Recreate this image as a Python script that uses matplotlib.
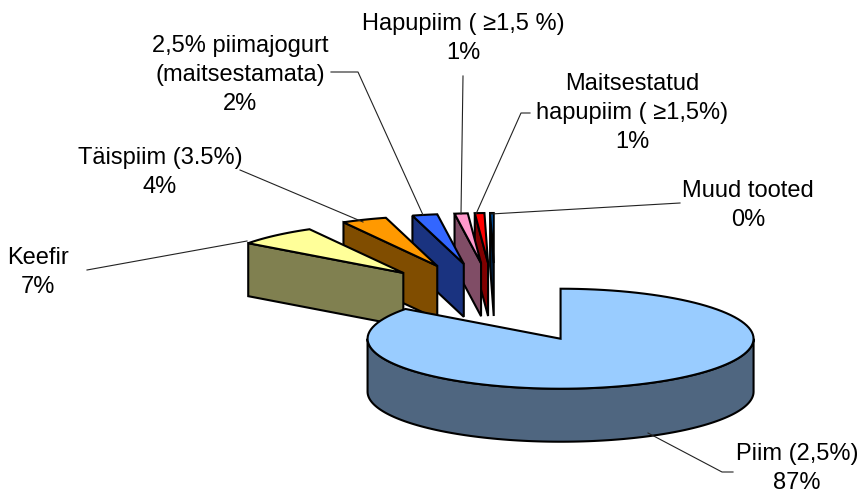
import numpy as np
import matplotlib
matplotlib.use('Agg')
import matplotlib.pyplot as plt
from matplotlib.patches import Polygon

plt.rcParams['font.family'] = ['Liberation Sans', 'DejaVu Sans']

names = ['Piim (2,5%)', 'Keefir', 'Täispiim (3.5%)', '2,5% piimajogurt\n(maitsestamata)',
         'Hapupiim ( ≥1,5 %)', 'Maitsestatud\nhapupiim ( ≥1,5%)', 'Muud tooted']
percent_text = ['87%', '7%', '4%', '2%', '1%', '1%', '0%']
# slice sizes as they are drawn
shares = [85.4, 6.8, 3.8, 2.1, 1.1, 0.8, 0.3]
top_colors = ['#99CCFF', '#FFFF99', '#FF9900', '#3366FF', '#FF99CC', '#FF0000', '#0066CC']
side_colors = ['#4F6680', '#808050', '#804D00', '#1A3380', '#804D66', '#800000', '#002244']
explode_x = [0.755, 0.72, 0.79, 0.80, 0.70, 0.82, 0.70]

label_x = [797, 38, 160, 240, 463, 632, 748]
label_y = [452, 256, 156, 44, 22, 82, 189]
leaders = [[(648, 433), (722, 472), (733, 472)],
           [(87, 270), (247, 241)],
           [(240, 170), (363, 222)],
           [(331, 72), (358, 72), (423, 215)],
           [(463, 76), (461, 214)],
           [(530, 113), (521, 113), (476, 214)],
           [(680, 203), (491, 214)]]

cx, cy = 495, 303
rx, ry = 193, 50
depth = 53
explode_y = 0.80
edge_w = 1.5


def rim(a0, a1, x0, y0):
    t = np.radians(np.linspace(a0, a1, 120))
    return np.column_stack([x0 + rx * np.sin(t), y0 - ry * np.cos(t)])


def draw_slice(ax, a0, a1, ex, top, side, z):
    mid = np.radians((a0 + a1) / 2)
    tx = cx + ex * rx * np.sin(mid)
    ty = cy - explode_y * ry * np.cos(mid)
    arc = rim(a0, a1, tx, ty)
    down = np.array([0, depth])
    if a0 < 180:
        # big slice, the outer wall at the front shows
        wall = rim(90, 270, tx, ty)
        ax.add_patch(Polygon(np.vstack([wall, wall[::-1] + down]), fc=side, ec='black', lw=edge_w, zorder=z))
    else:
        tip = np.array([tx, ty])
        ax.add_patch(Polygon([tip, arc[0], arc[0] + down, tip + down], fc=side, ec='black', lw=edge_w, zorder=z))
    ax.add_patch(Polygon(np.vstack([[tx, ty], arc]), fc=top, ec='black', lw=edge_w, zorder=z + 0.5))


fig = plt.figure(figsize=(8.64, 4.95), dpi=100)
ax = fig.add_axes([0, 0, 1, 1])
ax.set_xlim(0, 864)
ax.set_ylim(495, 0)
ax.axis('off')

edges = np.cumsum([0] + shares) / np.sum(shares) * 360
for i in range(len(shares)):
    # left slices cover the right ones, the big one covers all
    z = 20 if i == 0 else 10 - i
    draw_slice(ax, edges[i], edges[i + 1], explode_x[i], top_colors[i], side_colors[i], z)

for pts in leaders:
    xs, ys = zip(*pts)
    ax.plot(xs, ys, color='#222222', lw=0.8, zorder=30)

for i in range(len(names)):
    txt = names[i] + '\n' + percent_text[i]
    ax.text(label_x[i], label_y[i] - 9, txt, ha='center', va='top', fontsize=17,
            linespacing=1.4, color='black', zorder=40)

fig.savefig('out.png', dpi=100)
